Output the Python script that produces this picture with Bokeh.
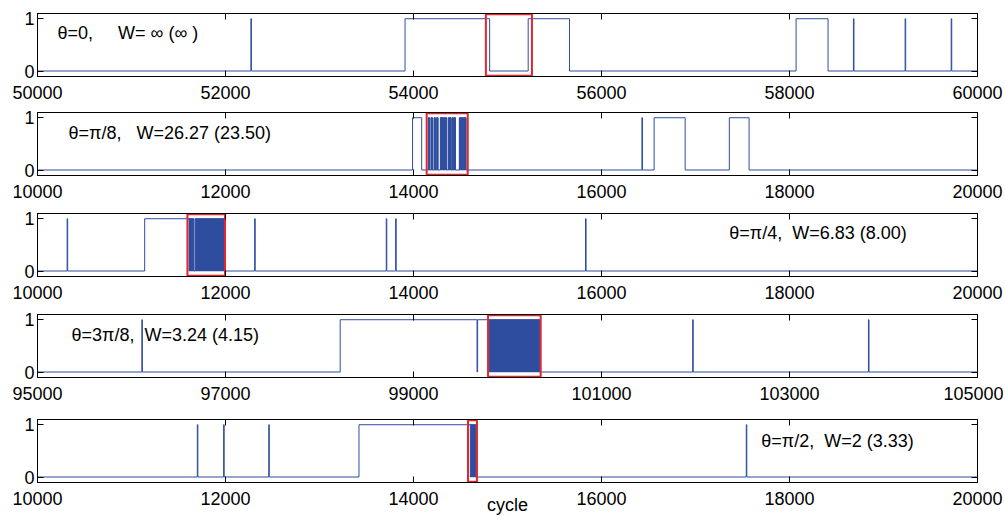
from bokeh.plotting import figure
from bokeh.layouts import column
from bokeh.models import Range1d, LinearAxis, FixedTicker, Label, BasicTickFormatter
from bokeh.embed import file_html
from bokeh.resources import INLINE

LINE = "#2f4d9f"
RED = "#e3262b"
FONT = "Liberation Sans"
YMIN, YMAX = -0.105, 1.1

# ---------------- data ----------------
x_min = [50000, 10000, 10000, 95000, 10000]
x_max = [60000, 20000, 20000, 105000, 20000]
x_ticks = [
    [50000, 52000, 54000, 56000, 58000, 60000],
    [10000, 12000, 14000, 16000, 18000, 20000],
    [10000, 12000, 14000, 16000, 18000, 20000],
    [95000, 97000, 99000, 101000, 103000, 105000],
    [10000, 12000, 14000, 16000, 18000, 20000],
]
y_ticks = [0, 1]
x_label = "cycle"

# intervals where the signal is 1 (on -> off)
p1_on = [52270, 53910, 55220, 58070, 58680, 59230, 59720]
p1_off = [52276, 54810, 55660, 58410, 58686, 59236, 59726]
p1_burst_start = []
p1_burst_end = []

p2_on = [13990, 14158, 14187, 14219, 14247, 14286, 14329, 14371, 14410, 14428, 14488, 14531, 16430, 16560, 17360]
p2_off = [14087, 14172, 14201, 14233, 14261, 14321, 14353, 14399, 14421, 14446, 14524, 14559, 16436, 16890, 17570]
p2_burst_start = [14158, 14187, 14219, 14247, 14286, 14329, 14371, 14410, 14428, 14488, 14531]
p2_burst_end = [14172, 14201, 14233, 14261, 14321, 14353, 14399, 14421, 14446, 14524, 14559]

p3_on = [10315, 11140, 11678, 12310, 13710, 13810, 15830]
p3_off = [10321, 11663, 11989, 12316, 13716, 13816, 15836]
p3_burst_start = [11610, 11678]
p3_burst_end = [11663, 11989]

p4_on = [96110, 98220, 99682, 101970, 103840]
p4_off = [96116, 99676, 100343, 101976, 103846]
p4_burst_start = [99804]
p4_burst_end = [100343]

p5_on = [11700, 11980, 12460, 13420, 17540]
p5_off = [11706, 11986, 12466, 14662, 17546]
p5_burst_start = [14602]
p5_burst_end = [14662]

box_left = [54770, 14140, 11595, 99793, 14580]
box_right = [55260, 14577, 11995, 100353, 14675]

labels = [
    "θ=0,\u00a0\u00a0\u00a0\u00a0\u00a0W=\u00a0∞\u00a0(∞\u00a0)",
    "θ=π/8,\u00a0\u00a0\u00a0W=26.27 (23.50)",
    "θ=π/4,\u00a0\u00a0W=6.83 (8.00)",
    "θ=3π/8,\u00a0\u00a0W=3.24 (4.15)",
    "θ=π/2,\u00a0\u00a0W=2 (3.33)",
]
label_x = [50213, 10330, 17360, 95362, 17700]
label_y = [0.72, 0.70, 0.72, 0.71, 0.68]

ons = [p1_on, p2_on, p3_on, p4_on, p5_on]
offs = [p1_off, p2_off, p3_off, p4_off, p5_off]
bstarts = [p1_burst_start, p2_burst_start, p3_burst_start, p4_burst_start, p5_burst_start]
bends = [p1_burst_end, p2_burst_end, p3_burst_end, p4_burst_end, p5_burst_end]

# layout (heights / borders in px)
FRAME_H = 63
fig_h = [107, 101, 101, 104, 106]
fig_bt = [13, 5, 5, 5, 6]


def make_panel(i, with_label=False):
    h = fig_h[i]
    bt = fig_bt[i]
    p = figure(width=1003, height=h,
               x_range=Range1d(x_min[i], x_max[i]), y_range=Range1d(YMIN, YMAX),
               output_backend="svg", toolbar_location=None,
               min_border_left=37, min_border_right=26,
               min_border_top=bt, min_border_bottom=h - bt - FRAME_H)
    p.grid.visible = False
    p.outline_line_color = "black"
    p.outline_line_width = 1
    p.background_fill_color = "white"
    p.border_fill_color = "white"

    xa = p.xaxis[0]
    xa.ticker = FixedTicker(ticks=x_ticks[i])
    xa.formatter = BasicTickFormatter(use_scientific=False)
    ya = p.yaxis[0]
    ya.ticker = FixedTicker(ticks=y_ticks)
    for ax in (xa, ya):
        ax.major_tick_in = 6
        ax.major_tick_out = 0
        ax.minor_tick_line_color = None
        ax.axis_line_color = "black"
        ax.major_tick_line_color = "black"
        ax.major_label_text_font = FONT
        ax.major_label_text_font_size = "18px"
        ax.major_label_text_color = "black"
    xa.major_label_standoff = 9
    ya.major_label_standoff = 3
    if with_label:
        xa.axis_label = x_label
        xa.axis_label_text_font = FONT
        xa.axis_label_text_font_size = "18px"
        xa.axis_label_text_font_style = "normal"
        xa.axis_label_text_color = "black"
        xa.axis_label_standoff = -13

    top = LinearAxis(ticker=FixedTicker(ticks=x_ticks[i]), major_label_text_font_size="0px",
                     major_label_text_color=None,
                     major_tick_in=6, major_tick_out=0, minor_tick_line_color=None,
                     major_label_standoff=0, axis_line_color="black")
    right = LinearAxis(ticker=FixedTicker(ticks=y_ticks), major_label_text_font_size="0px",
                       major_label_text_color=None,
                       major_tick_in=6, major_tick_out=0, minor_tick_line_color=None,
                       major_label_standoff=0, axis_line_color="black")
    p.add_layout(top, "above")
    p.add_layout(right, "right")

    # step signal
    xs = [x_min[i]]
    ys = [0]
    for a, b in sorted(zip(ons[i], offs[i])):
        xs += [a, a, b, b]
        ys += [0, 1, 1, 0]
    xs.append(x_max[i])
    ys.append(0)
    p.line(xs, ys, line_color=LINE, line_width=1)

    if bstarts[i]:
        p.quad(left=bstarts[i], right=bends[i], bottom=0, top=1,
               fill_color=LINE, line_color=LINE, line_width=0.5)

    p.quad(left=[box_left[i]], right=[box_right[i]], bottom=YMIN + 0.012, top=YMAX - 0.012,
           fill_color=None, line_color=RED, line_width=2)

    p.add_layout(Label(x=label_x[i], y=label_y[i], text=labels[i],
                       text_font=FONT, text_font_size="18px", text_color="black",
                       text_baseline="middle", text_align="left"))
    return p


panels = [make_panel(i, with_label=(i == 4)) for i in range(5)]

layout = column(*panels, spacing=0)
open("out.html", "w").write(file_html(layout, INLINE))
